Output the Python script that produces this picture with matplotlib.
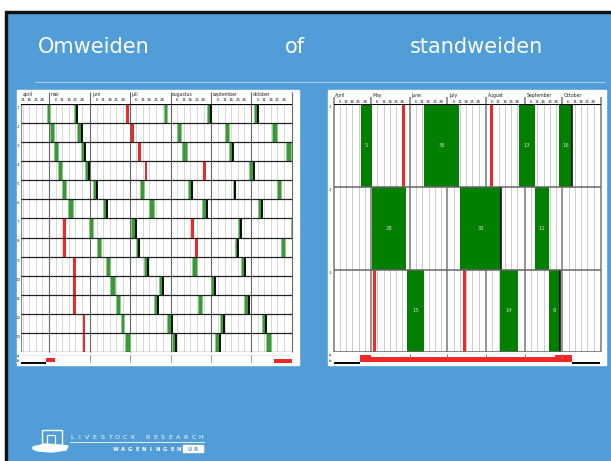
import matplotlib
matplotlib.use('Agg')
import matplotlib.pyplot as plt
from matplotlib.patches import Rectangle, Polygon
import numpy as np

W, H = 611, 461

# ---------------- data ----------------
title_words = ['Omweiden', 'of', 'standweiden']

month_start = [91, 121, 152, 182, 213, 244, 274]   # day of year: 1 Apr .. 1 Oct
season_end = 305                                   # 1 Nov
day_ticks = [6, 11, 16, 21, 26]

# left chart: rotational grazing (omweiden), 13 paddocks
left_months = ['april', 'mei', 'juni', 'juli', 'augustus', 'september', 'oktober']
left_first_day = 100
left_rows = [str(i) for i in range(1, 14)]
# (start day, end day, black closing line)
left_grazing = [
    [(119.5, 122, 0), (140, 142.5, 1), (208, 210.5, 0), (241, 243.5, 1), (276.5, 279, 1)],
    [(122, 125, 0), (142.5, 146, 1), (218, 221, 0), (254, 257, 0), (290, 293.5, 0)],
    [(124.5, 127.5, 0), (145.5, 148.5, 1), (222, 225.5, 0), (257, 260, 1), (300.5, 304, 0)],
    [(128, 130.5, 0), (148.5, 151.5, 1), (272.5, 276, 1)],
    [(131, 134, 0), (154.5, 157.5, 1), (190, 193, 0), (226, 229.5, 1), (260, 262, 1), (294, 296.5, 0)],
    [(135, 139.5, 0), (162, 165, 1), (196.5, 200.5, 0), (237, 240.5, 1), (279, 282.5, 1)],
    [(151.5, 154.5, 0), (183, 186.5, 1), (264, 266.5, 1), (304, 305, 0)],
    [(157.5, 160.5, 0), (186.5, 189.5, 1), (261.5, 264, 1), (296.5, 299.5, 0)],
    [(164.5, 167, 0), (193, 196, 1), (229.5, 233, 0), (266.5, 269.5, 1)],
    [(167.5, 171, 0), (204, 207, 1), (243.5, 247, 1)],
    [(171.5, 174.5, 0), (200.5, 203.5, 1), (233.5, 236.5, 0), (269, 272.5, 1)],
    [(175.5, 178, 0), (210.5, 214, 1), (250.5, 253.5, 1), (282.5, 285.5, 1)],
    [(178.5, 182, 0), (214.5, 217.5, 1), (247, 250.5, 1), (285.5, 289, 0)],
]
left_mowing = [
    [(179.5, 181.5)], [(183, 185)], [(188.5, 190.5)], [(193.5, 195.5), (237.5, 239.5)],
    [], [], [(131.5, 133.5), (228.5, 230.5)], [(131.5, 133.5), (231.5, 233.5)],
    [(139.5, 141.5)], [(139.5, 141.5)], [(139.5, 141.5)], [(146.5, 148.5)], [(146.5, 148.5)],
]
left_strip_black = [(100, 118.7)]
left_strip_red = [(118.7, 125.5, 0.22, 0.50), (291.5, 305, 0.13, 0.42)]

# right chart: continuous grazing (standweiden), 3 paddocks
right_months = ['April', 'May', 'June', 'July', 'August', 'September', 'October']
right_first_day = 91
right_rows = ['1', '2', '3']
# (start day, end day, days label, black closing line)
right_grazing = [
    [(112.5, 121.5, '5', 0), (163.5, 191.5, '36', 0), (239, 252, '13', 0), (271.5, 282, '16', 1)],
    [(121.5, 149, '28', 0), (192, 225, '33', 1), (252, 263, '11', 0)],
    [(149.5, 163.5, '15', 0), (224.5, 238.5, '14', 0), (263, 272, '9', 1)],
]
right_mowing = [
    [(146, 148.3), (216.3, 218.6)],
    [],
    [(122.3, 124.6), (194.8, 197.1)],
]
right_strip_black = [(91, 112.3), (281.7, 304)]
right_strip_red = [(112.3, 121, 0.17, 0.80), (121, 268.3, 0.17, 0.58), (268.3, 281.7, 0.17, 0.80)]

# ---------------- styling ----------------
BLUE = '#509DD7'
GREEN_L = '#3A9A3A'
GREEN_R = '#007F00'
RED = '#F02828'

fig = plt.figure(figsize=(W / 100, H / 100), dpi=100)
bg = fig.add_axes([0, 0, 1, 1])
bg.set_xlim(0, W)
bg.set_ylim(H, 0)
bg.axis('off')
bg.add_patch(Rectangle((0, 0), W, H, color=BLUE, zorder=0))
bg.add_patch(Rectangle((0, 0), W, 11, color='white', zorder=1))
bg.add_patch(Rectangle((0, 11), W, 2.5, color='#111111', zorder=1))
bg.add_patch(Rectangle((0, 0), 4.5, H, color='white', zorder=1))
bg.add_patch(Rectangle((4.5, 11), 2.5, H, color='#111111', zorder=1))

# title
for word, x in zip(title_words, [38, 285, 410]):
    bg.text(x, 53, word, color='white', fontsize=15, family='DejaVu Sans',
            va='baseline', ha='left', zorder=3)
bg.plot([35, 605], [82, 82], color='#A8CCEA', lw=0.8, zorder=2)

# white panels
bg.add_patch(Rectangle((16.5, 90.5), 282, 274, color='white', zorder=1))
bg.add_patch(Rectangle((327.5, 90.5), 278, 274, color='white', zorder=1))

# logo
bg.add_patch(Polygon([[33, 447], [45, 444], [58, 445], [68, 446], [66, 450], [52, 452], [38, 451], [33, 449]],
                     closed=True, color='white', zorder=3))
bg.add_patch(Rectangle((42, 430), 20, 15, fill=False, ec='white', lw=1.0, zorder=3))
bg.add_patch(Rectangle((47, 435), 8, 10, fill=False, ec='white', lw=0.9, zorder=3))
for ch, x in zip('LIVESTOCK RESEARCH', np.linspace(72, 201, 18)):
    bg.text(x, 438.5, ch, color='white', fontsize=4.6, ha='center', va='baseline', zorder=3)
bg.plot([70, 204], [442, 442], color='white', lw=0.6, zorder=3)
for ch, x in zip('WAGENINGEN', np.linspace(116, 179, 10)):
    bg.text(x, 450.5, ch, color='white', fontsize=3.8, ha='center', va='baseline',
            fontweight='bold', zorder=3)
bg.add_patch(Rectangle((183, 445), 20, 6.5, color='white', zorder=3))
bg.text(193, 450.5, 'U R', color=BLUE, fontsize=3.8, ha='center', va='baseline',
        fontweight='bold', zorder=4)


def px_axes(x0, y0, x1, y1):
    ax = fig.add_axes([x0 / W, 1 - y1 / H, (x1 - x0) / W, (y1 - y0) / H])
    ax.axis('off')
    return ax


def grid_days(first):
    minor, major = [], []
    for m in month_start:
        if m >= first:
            major.append(m)
        for d in day_ticks:
            if m + d - 1 > first:
                minor.append(m + d - 1)
    return minor, major


# ================= left chart =================
LX0, LX1, LY0, LY1 = 21.3, 292.0, 103.7, 352.3
axL = px_axes(LX0, LY0, LX1, LY1)
n = len(left_rows)
axL.set_xlim(left_first_day, season_end)
axL.set_ylim(n, 0)
minor, major = grid_days(left_first_day)
axL.vlines(minor, 0, n, color='#C8C8C8', lw=0.5, zorder=1)
axL.vlines(major + [season_end], -0.6, n, color='#666666', lw=0.8, zorder=2, clip_on=False)
axL.vlines([left_first_day], 0, n, color='#888888', lw=0.8, zorder=2)
for i in range(n):
    for s, e, blk in left_grazing[i]:
        axL.barh(i + 0.5, e - s, left=s, height=1.0, color=GREEN_L,
                 ec='#86C886', lw=0.5, zorder=3)
        axL.text((s + e) / 2, i + 0.5, '4', fontsize=2.2, color='#9A5A40',
                 ha='center', va='center', zorder=4)
        if blk:
            axL.vlines(e, i, i + 1, color='black', lw=1.3, zorder=4)
    for s, e in left_mowing[i]:
        axL.barh(i + 0.5, e - s, left=s, height=1.0, color=RED, lw=0, zorder=3)
    axL.text(left_first_day - 2.3, i + 0.2, left_rows[i], fontsize=3, ha='center',
             va='center', color='#333333', clip_on=False)
axL.hlines(range(1, n + 1), left_first_day, season_end, color='#222222', lw=0.9, zorder=5)
axL.hlines(0, left_first_day, season_end, color='black', lw=1.6, zorder=5)
for m, name in zip(month_start, left_months):
    axL.text(max(m, left_first_day) + 1.3, -0.46, name, fontsize=3.3, ha='left',
             va='center', color='#222222', clip_on=False)
for d in minor:
    mday = d - max(m for m in month_start if m <= d) + 1
    axL.text(d, -0.19, str(mday), fontsize=3.0, ha='center', va='center',
             color='#222222', clip_on=False)

axLs = px_axes(LX0, LY1, LX1, 364.3)
axLs.set_xlim(left_first_day, season_end)
axLs.set_ylim(0, 1)
axLs.hlines(0.75, left_first_day, season_end, color='#DDDDDD', lw=0.5)
axLs.vlines(major[1:] + [season_end], 0.15, 0.75, color='#999999', lw=0.7)
for s, e in left_strip_black:
    axLs.hlines(0.13, s, e, color='black', lw=1.4)
for s, e, b, t in left_strip_red:
    axLs.bar(s, t - b, width=e - s, bottom=b, align='edge', color=RED, lw=0)
axLs.text(left_first_day - 2.3, 0.72, 'a', fontsize=2.8, ha='center', va='center', clip_on=False)
axLs.text(left_first_day - 2.3, 0.25, 'b', fontsize=2.8, ha='center', va='center', clip_on=False)

# ================= right chart =================
RX0, RX1, RY0, RY1 = 333.7, 601.0, 104.0, 352.3
axR = px_axes(RX0, RY0, RX1, RY1)
nr = len(right_rows)
axR.set_xlim(right_first_day, season_end)
axR.set_ylim(nr, 0)
minor, major = grid_days(right_first_day)
axR.vlines(minor, 0, nr, color='#C4C4C4', lw=0.6, zorder=1)
axR.vlines(major + [season_end], -0.09, nr, color='#8C8C8C', lw=1.3, zorder=2, clip_on=False)
for i in range(nr):
    for s, e, lab, blk in right_grazing[i]:
        axR.barh(i + 0.5, e - s, left=s, height=1.0, color=GREEN_R, lw=0, zorder=3)
        axR.text((s + e) / 2, i + 0.5, lab, fontsize=3.8, color='#D8D8D8',
                 ha='center', va='center', zorder=6)
        if blk:
            axR.vlines(e, i, i + 1, color='black', lw=1.1, zorder=4)
    for s, e in right_mowing[i]:
        axR.barh(i + 0.5, e - s, left=s, height=1.0, color=RED, lw=0, zorder=3)
    axR.text(right_first_day - 3.0, i + 0.04, right_rows[i], fontsize=3, ha='center',
             va='center', color='#333333', clip_on=False)
axR.hlines(range(1, nr + 1), right_first_day, season_end, color='#666666', lw=1.1, zorder=5)
axR.hlines(0, right_first_day, season_end, color='black', lw=1.5, zorder=5)
for m, name in zip(month_start, right_months):
    axR.text(m + 1.2, -0.105, name, fontsize=3.3, ha='left', va='center',
             color='#222222', clip_on=False)
for d in minor:
    mday = d - max(m for m in month_start if m <= d) + 1
    axR.text(d, -0.03, str(mday), fontsize=3.0, ha='center', va='center',
             color='#222222', clip_on=False)

axRs = px_axes(RX0, RY1, RX1, 364.3)
axRs.set_xlim(right_first_day, season_end)
axRs.set_ylim(0, 1)
axRs.vlines(major[2:] + [season_end], 0.55, 0.85, color='#777777', lw=0.7)
for s, e in right_strip_black:
    axRs.hlines(0.11, s, e, color='black', lw=1.4)
for s, e, b, t in right_strip_red:
    axRs.bar(s, t - b, width=e - s, bottom=b, align='edge', color=RED, lw=0)
axRs.text(right_first_day - 3.0, 0.75, 'a', fontsize=2.8, ha='center', va='center', clip_on=False)
axRs.text(right_first_day - 3.0, 0.25, 'b', fontsize=2.8, ha='center', va='center', clip_on=False)

fig.savefig('out.png', dpi=100)
